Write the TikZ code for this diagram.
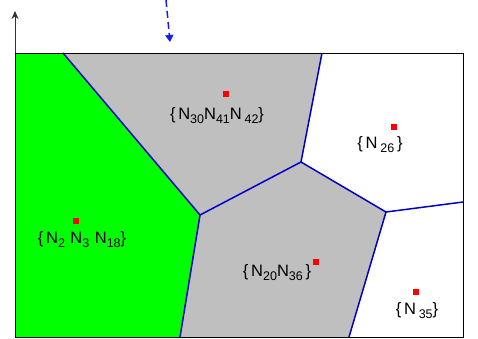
\documentclass[tikz,border=0pt]{standalone}
\usepackage{fontspec}
\setmainfont{Liberation Sans}
\usetikzlibrary{arrows.meta}
\newcommand{\nsb}[1]{\raisebox{-0.45ex}{\fontsize{12.5}{12.5}\selectfont #1}}
\begin{document}
\begin{tikzpicture}[x=1pt,y=-1pt,
  edge/.style={draw=blue!80!black,line width=1.5pt},
  seed/.style={fill=red,minimum size=6.5pt,inner sep=0pt},
  lbl/.style={font=\fontsize{16.5}{16.5}\selectfont,inner sep=0pt},
  frame/.style={draw=black,line width=0.8pt}]
\useasboundingbox (0,0) rectangle (478,338);
% vertices
\coordinate (TL) at (15,53);
\coordinate (TR) at (463,53);
\coordinate (BR) at (463,337);
\coordinate (BL) at (15,337);
\coordinate (T1) at (63,53);
\coordinate (T2) at (322,53);
\coordinate (A) at (200,215);
\coordinate (B) at (301,162);
\coordinate (C) at (386,212);
\coordinate (R1) at (463,202);
\coordinate (B1) at (180,337);
\coordinate (B2) at (349,337);
% regions
\fill[green] (TL) -- (T1) -- (A) -- (B1) -- (BL) -- cycle;
\fill[gray!50] (T1) -- (T2) -- (B) -- (A) -- cycle;
\fill[gray!50] (A) -- (B) -- (C) -- (B2) -- (B1) -- cycle;
% edges
\draw[edge] (T1) -- (A) -- (B1);
\draw[edge] (A) -- (B) -- (T2);
\draw[edge] (B) -- (C) -- (R1);
\draw[edge] (C) -- (B2);
% frame
\draw[frame] (TL) -- (TR) -- (BR) -- (BL) -- cycle;
\coordinate (AX) at (15,11);
\draw[black!80,line width=0.8pt,-{Stealth[length=8pt,width=7pt]}] (TL) -- (AX);
% dashed arrow
\coordinate (D0) at (166,0);
\coordinate (D1) at (170,42);
\draw[blue!90!white,line width=1.5pt,dash pattern=on 7pt off 4pt,-{Triangle[length=7pt,width=8pt]}] (D0) -- (D1);
% seeds
\node[seed] (s1) at (226,94) {};
\node[seed] (s2) at (394,127) {};
\node[seed] (s3) at (76,221) {};
\node[seed] (s4) at (316,262) {};
\node[seed] (s5) at (416,292) {};
% labels
\node[lbl] (l1) at (217,116) {\{\,N\nsb{30}N\nsb{41}N\,\nsb{42}\}};
\node[lbl] (l2) at (380,145) {\{\,N\,\nsb{26}\,\}};
\node[lbl] (l3) at (82,240) {\{\,N\nsb{2}\,\,N\nsb{3}\,\,N\nsb{18}\}};
\node[lbl] (l4) at (277,273) {\{\,N\nsb{20}N\nsb{36}\,\}};
\node[lbl] (l5) at (417,311) {\{\,N\,\nsb{35}\}};
\end{tikzpicture}
\end{document}
